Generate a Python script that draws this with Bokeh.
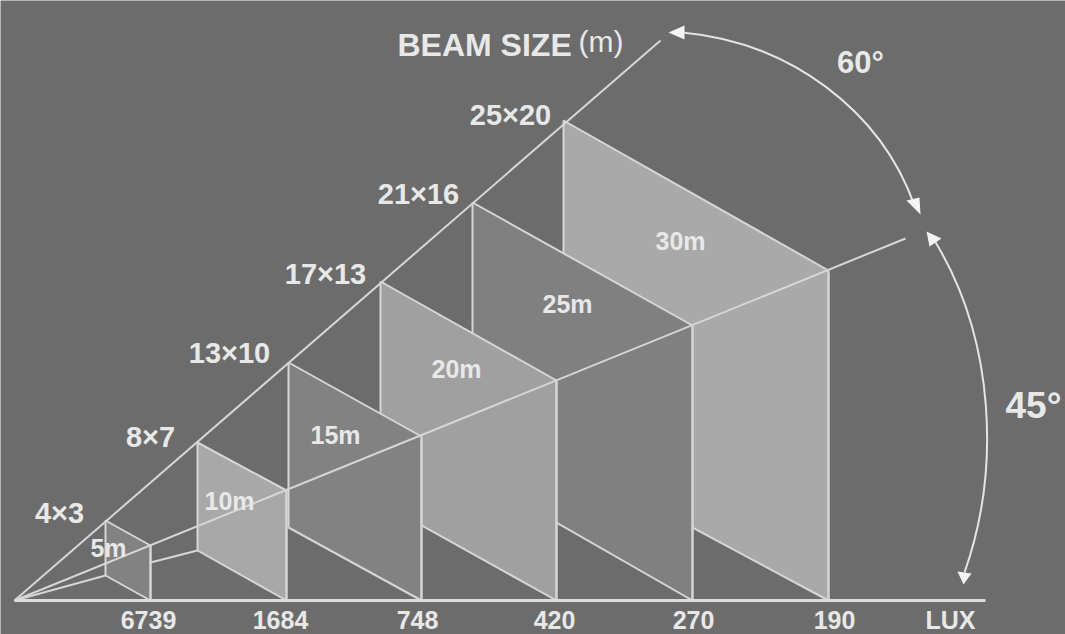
from bokeh.plotting import figure
from bokeh.embed import file_html
from bokeh.resources import INLINE
from bokeh.core.properties import value

W, H = 1065, 634
BG = "#6c6c6c"
LINE = "#d6d6d6"
TEXT = "#e8e8e8"
FONT = value("Liberation Sans")

# panels, drawn from the farthest to the nearest
panel_names = ["30m", "25m", "20m", "15m", "10m", "5m"]
panel_left = [563, 472, 380, 288, 197, 105]
panel_right = [828, 692, 556, 421, 286, 150]
panel_left_top = [120, 202, 281, 362, 442, 520]
panel_right_top = [270, 325, 380, 436, 490, 545]
panel_left_bottom = [458, 474, 502, 527, 550, 575]
panel_right_bottom = [600, 600, 600, 600, 600, 600]
panel_colors = ["#a9a9a9", "#808080", "#a0a0a0", "#828282", "#a8a8a8", "#828282"]
panel_label_x = [680, 567, 456, 335, 229, 108]
panel_label_y = [240, 303, 368, 434, 500, 547]

size_labels = ["25\u00d720", "21\u00d716", "17\u00d713", "13\u00d710", "8\u00d77", "4\u00d73"]
size_x = [510, 418, 325, 229, 150, 59]
size_y = [114, 193, 273, 352, 436, 512]

lux_labels = ["6739", "1684", "748", "420", "270", "190", "LUX"]
lux_x = [148, 280, 417, 554, 693, 834, 950]
lux_y = 619

origin = (14, 600)
top_ray_end = (660, 40)
mid_ray_end = (905, 238)
axis_end = (985, 600)
low_ray_xs = [[14, 105], [150, 197]]
low_ray_ys = [[600, 575], [562, 550]]

p = figure(width=W, height=H, x_range=(0, W), y_range=(H, 0),
           toolbar_location=None, output_backend="svg", min_border=0,
           background_fill_color=BG, border_fill_color=BG, outline_line_color=None)
p.axis.visible = False
p.grid.visible = False

for i in range(len(panel_names)):
    xs = [panel_left[i], panel_right[i], panel_right[i], panel_left[i]]
    ys = [panel_left_top[i], panel_right_top[i], panel_right_bottom[i], panel_left_bottom[i]]
    p.patch(xs, ys, fill_color=panel_colors[i], line_color=None)
    p.line([panel_left[i], panel_right[i]], [panel_left_top[i], panel_right_top[i]],
           line_color=LINE, line_width=2)
    p.line([panel_right[i], panel_right[i]], [panel_right_top[i], panel_right_bottom[i]],
           line_color=LINE, line_width=2.5)
    p.line([panel_left[i], panel_left[i]], [panel_left_top[i], panel_left_bottom[i]],
           line_color=LINE, line_width=2)
    p.line([panel_left[i], panel_right[i]], [panel_left_bottom[i], panel_right_bottom[i]],
           line_color=LINE, line_width=2)

p.line([origin[0], top_ray_end[0]], [origin[1], top_ray_end[1]], line_color=LINE, line_width=2)
p.line([origin[0], mid_ray_end[0]], [origin[1], mid_ray_end[1]], line_color=LINE, line_width=2)
p.multi_line(low_ray_xs, low_ray_ys, line_color=LINE, line_width=2)
p.line([origin[0], axis_end[0]], [origin[1], axis_end[1]], line_color="#dcdcdc", line_width=3)

# angle arcs
p.bezier(x0=[682], y0=[32], x1=[914], y1=[205], cx0=[790], cy0=[42], cx1=[880], cy1=[110],
         line_color="#e4e4e4", line_width=2)
p.bezier(x0=[934], y0=[240], x1=[964], y1=[572], cx0=[995], cy0=[340], cx1=[1000], cy1=[470],
         line_color="#e4e4e4", line_width=2)
p.patches([[668, 684, 684], [920, 906, 919], [926, 941, 929], [957, 971, 963]],
          [[32, 25, 39], [214, 200, 197], [231, 238, 246], [571, 573, 584]],
          fill_color="#f4f4f4", line_color=None)

p.text(panel_label_x, panel_label_y, text=panel_names, text_color=TEXT, text_font=FONT,
       text_font_style="bold", text_font_size="25px", text_align="center", text_baseline="middle")
p.text(size_x, size_y, text=size_labels, text_color=TEXT, text_font=FONT,
       text_font_style="bold", text_font_size="29px", text_align="center", text_baseline="middle")
p.text(lux_x, [lux_y] * len(lux_x), text=lux_labels, text_color=TEXT, text_font=FONT,
       text_font_style="bold", text_font_size="25px", text_align="center", text_baseline="middle")
p.text([397], [44], text=["BEAM SIZE"], text_color=TEXT, text_font=FONT,
       text_font_style="bold", text_font_size="32px", text_align="left", text_baseline="middle")
p.text([578], [41], text=["(m)"], text_color=TEXT, text_font=FONT,
       text_font_size="30px", text_align="left", text_baseline="middle")
p.text([860], [62], text=["60\u00b0"], text_color=TEXT, text_font=FONT,
       text_font_style="bold", text_font_size="31px", text_align="center", text_baseline="middle")
p.text([1033], [405], text=["45\u00b0"], text_color=TEXT, text_font=FONT,
       text_font_style="bold", text_font_size="37px", text_align="center", text_baseline="middle")

open("out.html", "w").write(file_html(p, INLINE))
